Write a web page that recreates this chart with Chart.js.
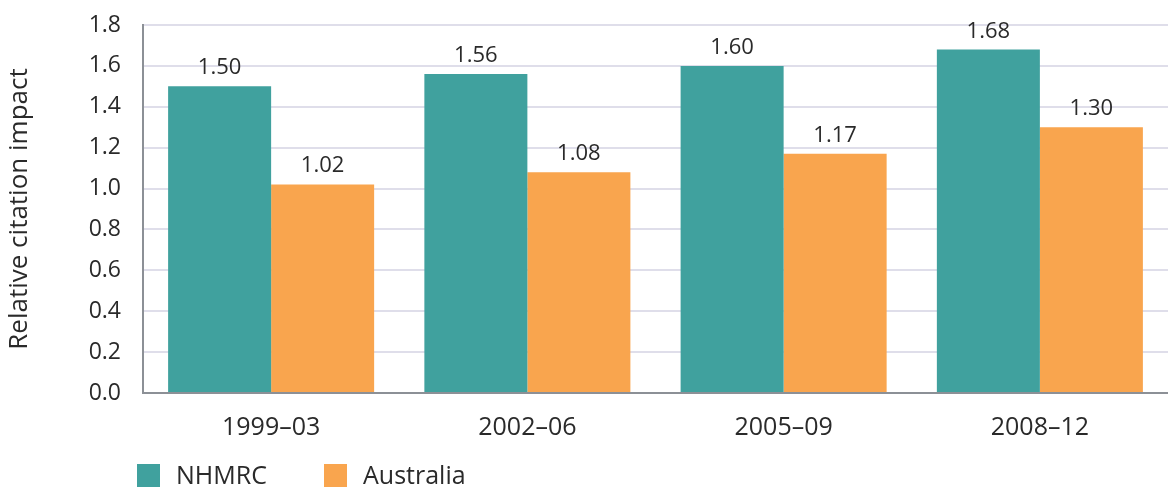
<!DOCTYPE html>
<html>
<head>
<meta charset="utf-8">
<script src="https://cdn.jsdelivr.net/npm/chart.js@4.4.1/dist/chart.umd.min.js"></script>
<style>
  html, body { margin: 0; padding: 0; background: #ffffff; }
  #wrap { width: 1168px; height: 488px; position: relative; }
</style>
</head>
<body>
<div id="wrap"><canvas id="c" width="1168" height="488"></canvas></div>
<script>
const categories = ["1999–03", "2002–06", "2005–09", "2008–12"];
const nhmrcValues = [1.50, 1.56, 1.60, 1.68];
const australiaValues = [1.02, 1.08, 1.17, 1.30];
const seriesNames = ["NHMRC", "Australia"];
const yTicks = [0, 0.2, 0.4, 0.6, 0.8, 1.0, 1.2, 1.4, 1.6, 1.8];
const yTitle = "Relative citation impact";

const TEAL = "#40a19e";
const ORANGE = "#f9a54e";
const TEXT = "#2a2a2a";
const FONT = "'Open Sans', 'DejaVu Sans', sans-serif";

const valueLabels = {
  id: "valueLabels",
  afterDatasetsDraw(chart) {
    const ctx = chart.ctx;
    ctx.save();
    ctx.font = "22px " + FONT;
    ctx.fillStyle = TEXT;
    ctx.textAlign = "center";
    ctx.textBaseline = "alphabetic";
    chart.data.datasets.forEach((ds, i) => {
      chart.getDatasetMeta(i).data.forEach((bar, j) => {
        ctx.fillText(ds.data[j].toFixed(2), bar.x, bar.y - 12);
      });
    });
    ctx.restore();
  }
};

const customLegend = {
  id: "customLegend",
  afterDraw(chart) {
    const ctx = chart.ctx;
    ctx.save();
    ctx.font = "25px " + FONT;
    ctx.textBaseline = "alphabetic";
    ctx.textAlign = "left";
    const starts = [137, 324];
    chart.data.datasets.forEach((ds, i) => {
      const x = starts[i];
      ctx.fillStyle = ds.backgroundColor;
      ctx.fillRect(x, 464, 23, 23);
      ctx.fillStyle = TEXT;
      ctx.fillText(ds.label, x + 39, 484);
    });
    ctx.restore();
  }
};

new Chart(document.getElementById("c"), {
  type: "bar",
  data: {
    labels: categories,
    datasets: [
      { label: seriesNames[0], data: nhmrcValues, backgroundColor: TEAL },
      { label: seriesNames[1], data: australiaValues, backgroundColor: ORANGE }
    ]
  },
  options: {
    responsive: false,
    animation: false,
    layout: { padding: { top: 25, right: -3, bottom: 40, left: 0 } },
    plugins: {
      legend: { display: false },
      tooltip: { enabled: false }
    },
    datasets: { bar: { categoryPercentage: 0.804, barPercentage: 1.0 } },
    scales: {
      x: {
        grid: { display: false, drawTicks: false },
        border: { display: true, color: "#8c9096", width: 2 },
        ticks: { color: TEXT, font: { family: FONT, size: 25 }, padding: 20 },
        afterFit(s) { s.height = 55; s.paddingLeft = 0; s.paddingRight = 0; }
      },
      y: {
        min: 0, max: 1.8,
        afterBuildTicks(s) { s.ticks = yTicks.map(v => ({ value: v })); },
        grid: { color: "#dfdeea", lineWidth: 2, drawTicks: false },
        border: { display: true, color: "#8c9096", width: 2 },
        ticks: {
          color: TEXT, font: { family: FONT, size: 23 }, padding: 22,
          callback: v => Number(v).toFixed(1)
        },
        title: {
          display: true, text: yTitle, color: TEXT,
          font: { family: FONT, size: 26 }, padding: { top: 4, bottom: 0 }
        },
        afterFit(s) { s.width = 143; s.paddingTop = 0; s.paddingBottom = 0; }
      }
    }
  },
  plugins: [valueLabels, customLegend]
});
</script>
</body>
</html>
